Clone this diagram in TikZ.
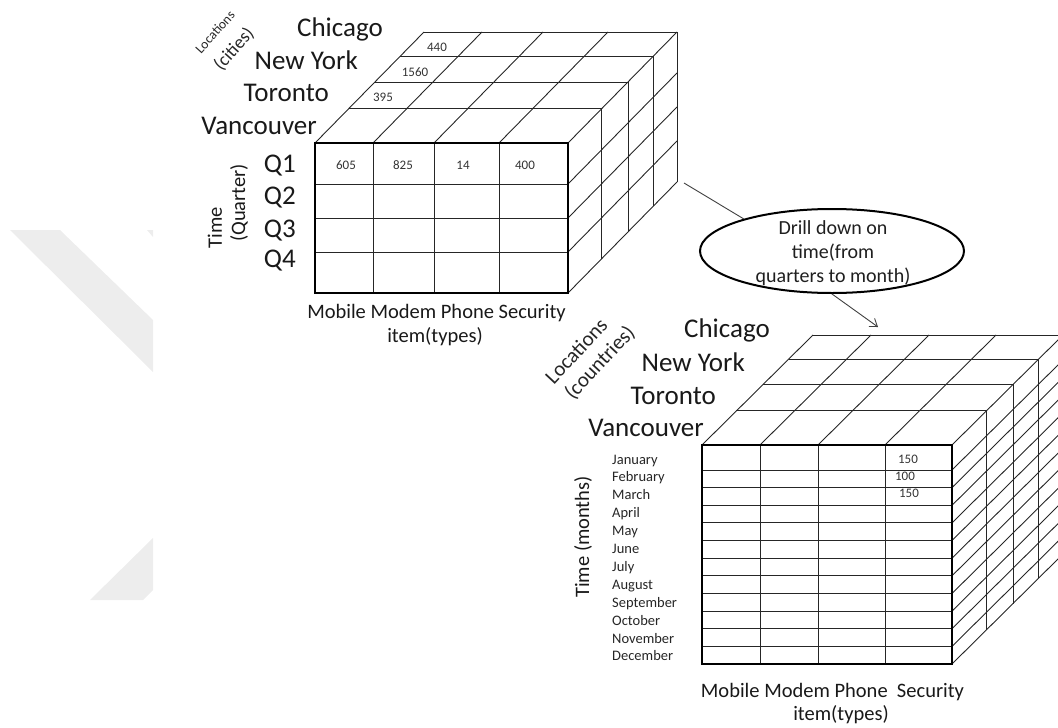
\documentclass[tikz,border=0pt]{standalone}
\usepackage{fontspec}
\setmainfont{Carlito}
\usetikzlibrary{shapes.geometric,arrows.meta}

% A data cube: front face with its grid, top face and right face drawn as
% parallel layers pushed back along the depth vector.
% #1 left  #2 right  #3 top  #4 bottom  #5 dx  #6 dy
% #7 inner column positions  #8 inner row positions
\newcommand{\cubegrid}[8]{%
  \foreach \f in {0.31,0.55,0.78,1}
    \draw[grid] ({#1+\f*#5},{#3+\f*#6}) -- ({#2+\f*#5},{#3+\f*#6})
                -- ({#2+\f*#5},{#4+\f*#6});
  \foreach \c in {#1,#7,#2}
    \draw[grid] (\c,#3) -- ++(#5,#6);
  \foreach \r in {#8,#4}
    \draw[grid] (#2,\r) -- ++(#5,#6);
  \foreach \c in {#7}
    \draw[grid] (\c,#3) -- (\c,#4);
  \foreach \r in {#8}
    \draw[grid] (#1,\r) -- (#2,\r);
  \draw[facebox] (#1,#3) rectangle (#2,#4);
}

\begin{document}
\begin{tikzpicture}[x=1pt,y=-1pt,
  grid/.style={line width=0.9pt, draw=black!85},
  facebox/.style={line width=2.2pt, draw=black},
  big/.style={font=\fontsize{27}{30}\selectfont, text=black!90, inner sep=0pt},
  mid/.style={font=\fontsize{20.5}{24}\selectfont, text=black!90, inner sep=0pt},
  month/.style={font=\fontsize{14.5}{16}\selectfont, text=black!85, inner sep=0pt, anchor=base west},
  val/.style={font=\fontsize{13}{15}\selectfont, text=black!80, inner sep=0pt},
  wmark/.style={fill=black!7}]

\useasboundingbox (0,0) rectangle (1058,728);

% faint background logo
\fill[wmark] (10,230) -- (60,230) -- (153,320) -- (153,372) -- cycle;
\fill[wmark] (147,230) -- (153,230) -- (153,237) -- cycle;
\fill[wmark] (90,600) -- (143,600) -- (153,590) -- (153,538) -- cycle;

% ---------------- quarterly cube ----------------
\cubegrid{315}{568}{143}{293}{109}{-111}{373,434,499}{184,218,252}

\node[font=\fontsize{13.5}{15}\selectfont, text=black!85, inner sep=0pt, rotate=48] (qLoc) at (215,32) {Locations};
\node[font=\fontsize{18.5}{20}\selectfont, text=black!85, inner sep=0pt, rotate=48] (qCities) at (234,49) {(cities)};

\node[big, anchor=base east] (qChi) at (383,36) {Chicago};
\node[big, anchor=base east] (qNY)  at (358,69) {New York};
\node[big, anchor=base east] (qTor) at (329,101) {Toronto};
\node[big, anchor=base east] (qVan) at (317,134) {Vancouver};

\node[big, anchor=base east] (qQ1) at (296,172) {Q1};
\node[big, anchor=base east] (qQ2) at (296,204) {Q2};
\node[big, anchor=base east] (qQ3) at (296,237) {Q3};
\node[big, anchor=base east] (qQ4) at (296,267) {Q4};

\node[mid, rotate=90] (qTime) at (215,228) {Time};
\node[mid, rotate=90] (qQuarter) at (239,203) {(Quarter)};

\node[val] (qV440)  at (437,47) {440};
\node[val] (qV1560) at (415,72) {1560};
\node[val] (qV395)  at (383,97) {395};
\node[val] (qV605)  at (346,165) {605};
\node[val] (qV825)  at (403,165) {825};
\node[val] (qV14)   at (463,165) {14};
\node[val] (qV400)  at (525,165) {400};

\node[mid] (qItems) at (436.5,313) {Mobile Modem Phone Security};
\node[mid] (qTypes) at (435,337) {item(types)};

% ---------------- monthly cube ----------------
\cubegrid{702}{952}{445}{664}{111}{-110}{760,818,885}%
  {470,487.6,505.3,522.9,540.5,558.2,575.8,593.5,611.1,628.7,646.4}

\node[font=\fontsize{21}{23}\selectfont, text=black!85, inner sep=0pt, rotate=47] (mLoc) at (576,351) {Locations};
\node[font=\fontsize{21}{23}\selectfont, text=black!85, inner sep=0pt, rotate=47] (mCountries) at (600,363) {(countries)};

\node[big, anchor=base east] (mChi) at (770,337) {Chicago};
\node[big, anchor=base east] (mNY)  at (745,371) {New York};
\node[big, anchor=base east] (mTor) at (716,404) {Toronto};
\node[big, anchor=base east] (mVan) at (704,436) {Vancouver};

\node[mid, rotate=90] (mTime) at (583,537) {Time (months)};

\foreach \m [count=\k from 0] in {January,February,March,April,May,June,July,August,September,October,November,December}
  \node[month] (month\k) at (612,{464+\k*17.9}) {\m};

\node[val] (mV1) at (908,459) {150};
\node[val] (mV2) at (905,476) {100};
\node[val] (mV3) at (909,493) {150};

\node[mid] (mItems) at (832.5,692) {Mobile Modem Phone\ \ Security};
\node[mid] (mTypes) at (841,715) {item(types)};

% ---------------- drill-down operation ----------------
\node[draw, ellipse, line width=2pt, minimum width=264pt, minimum height=84pt, inner sep=0pt] (drill) at (832,251) {};
\node[font=\fontsize{20}{24}\selectfont, text=black!88, inner sep=0pt, align=center] (drilltxt) at (833,253)
  {Drill down on\\time(from\\quarters to month)};

\coordinate (qCorner) at (684,183);
\coordinate (mTop) at (878,327);
\draw[line width=0.9pt, draw=black!75] (qCorner) -- (drill.160);
\draw[line width=0.9pt, draw=black!75, -{Straight Barb[length=7pt,width=10pt]}] (drill.south) -- (mTop);

\end{tikzpicture}
\end{document}
